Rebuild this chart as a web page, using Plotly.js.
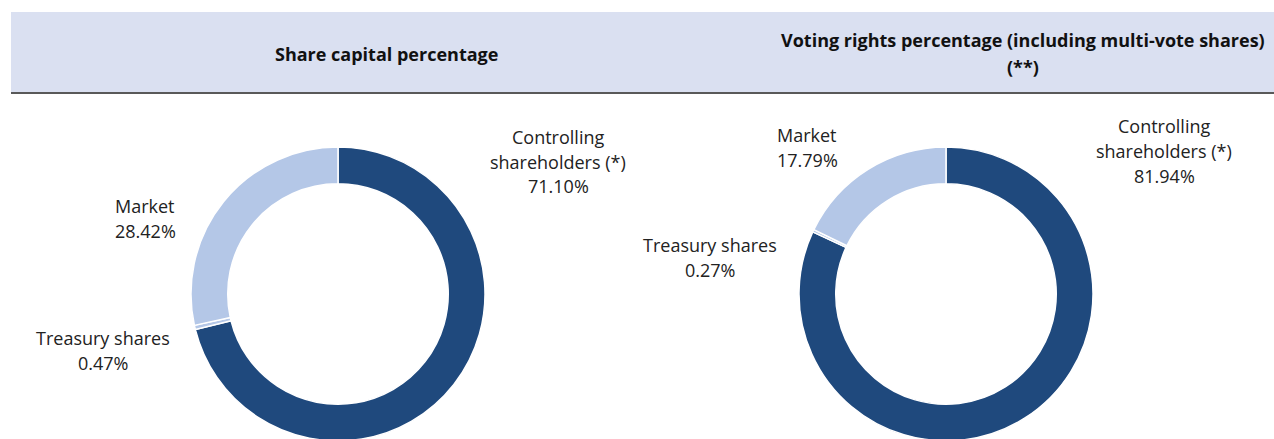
<!DOCTYPE html>
<html>
<head>
<meta charset="utf-8">
<script src="https://cdn.plot.ly/plotly-3.0.1.min.js"></script>
<style>
html,body{margin:0;padding:0;overflow:hidden;background:#fff;}
#chart{width:1274px;height:480px;}
</style>
</head>
<body>
<div id="chart"></div>
<script>
// Data
const categories = ["Controlling shareholders (*)", "Treasury shares", "Market"];
const labelLines = [["Controlling", "shareholders (*)"], ["Treasury shares"], ["Market"]];
const shareCapital = [71.10, 0.47, 28.42];
const votingRights = [81.94, 0.27, 17.79];
const chartTitles = [["Share capital percentage"], ["Voting rights percentage (including multi-vote shares)", "(**)"]];
const sliceColors = ["#1F497D", "#B4C7E7", "#B4C7E7"];

const W = 1274, H = 480;
const px = v => v / W;
const py = v => (H - v) / H;

function donut(values, cx, cy, r) {
  return {
    type: "pie",
    labels: categories,
    values: values,
    sort: false,
    direction: "clockwise",
    rotation: 0,
    hole: 0.75,
    textinfo: "none",
    textposition: "inside",
    hoverinfo: "label+percent",
    marker: {colors: sliceColors, line: {color: "#ffffff", width: 1.5}},
    domain: {x: [px(cx - r), px(cx + r)], y: [py(cy + r), py(cy - r)]},
    showlegend: false
  };
}

const fmt = v => v.toFixed(2) + "%";
const lblFont = {family: "'Open Sans', sans-serif", size: 18, color: "#222"};
const annotations = [];
function lbl(idx, values, x, y0, step) {
  const lines = labelLines[idx].concat([fmt(values[idx])]);
  lines.forEach((t, i) => annotations.push({
    text: t, x: px(x), y: py(y0 + i * step), xref: "paper", yref: "paper",
    xanchor: "center", yanchor: "middle", showarrow: false, font: lblFont
  }));
}

const titleFont = {family: "'Open Sans', sans-serif", size: 18, color: "#111", weight: "bold"};
function ttl(idx, x, y0, step) {
  chartTitles[idx].forEach((t, i) => annotations.push({
    text: "<b>" + t + "</b>", x: px(x), y: py(y0 + i * step), xref: "paper", yref: "paper",
    xanchor: "center", yanchor: "middle", showarrow: false, font: titleFont
  }));
}

ttl(0, 386, 54, 27);
ttl(1, 1023, 40, 27);
lbl(0, shareCapital, 558, 137, 24.5);
lbl(2, shareCapital, 145, 206, 24.5);
lbl(1, shareCapital, 103, 338, 24.5);
lbl(0, votingRights, 1164, 126, 25);
lbl(2, votingRights, 807, 135, 25);
lbl(1, votingRights, 710, 245, 25);

const layout = {
  width: W, height: H,
  margin: {l: 0, r: 0, t: 0, b: 0},
  paper_bgcolor: "#ffffff",
  plot_bgcolor: "#ffffff",
  shapes: [
    {type: "rect", xref: "paper", yref: "paper", x0: px(11), x1: 1, y0: py(92), y1: py(12),
     fillcolor: "#DAE0F1", line: {width: 0}, layer: "below"},
    {type: "line", xref: "paper", yref: "paper", x0: px(11), x1: 1, y0: py(93), y1: py(93),
     line: {color: "#595959", width: 2}}
  ],
  annotations: annotations
};

Plotly.newPlot("chart", [donut(shareCapital, 338, 294, 147), donut(votingRights, 946, 294, 147)], layout, {displayModeBar: false, staticPlot: true});
</script>
</body>
</html>
